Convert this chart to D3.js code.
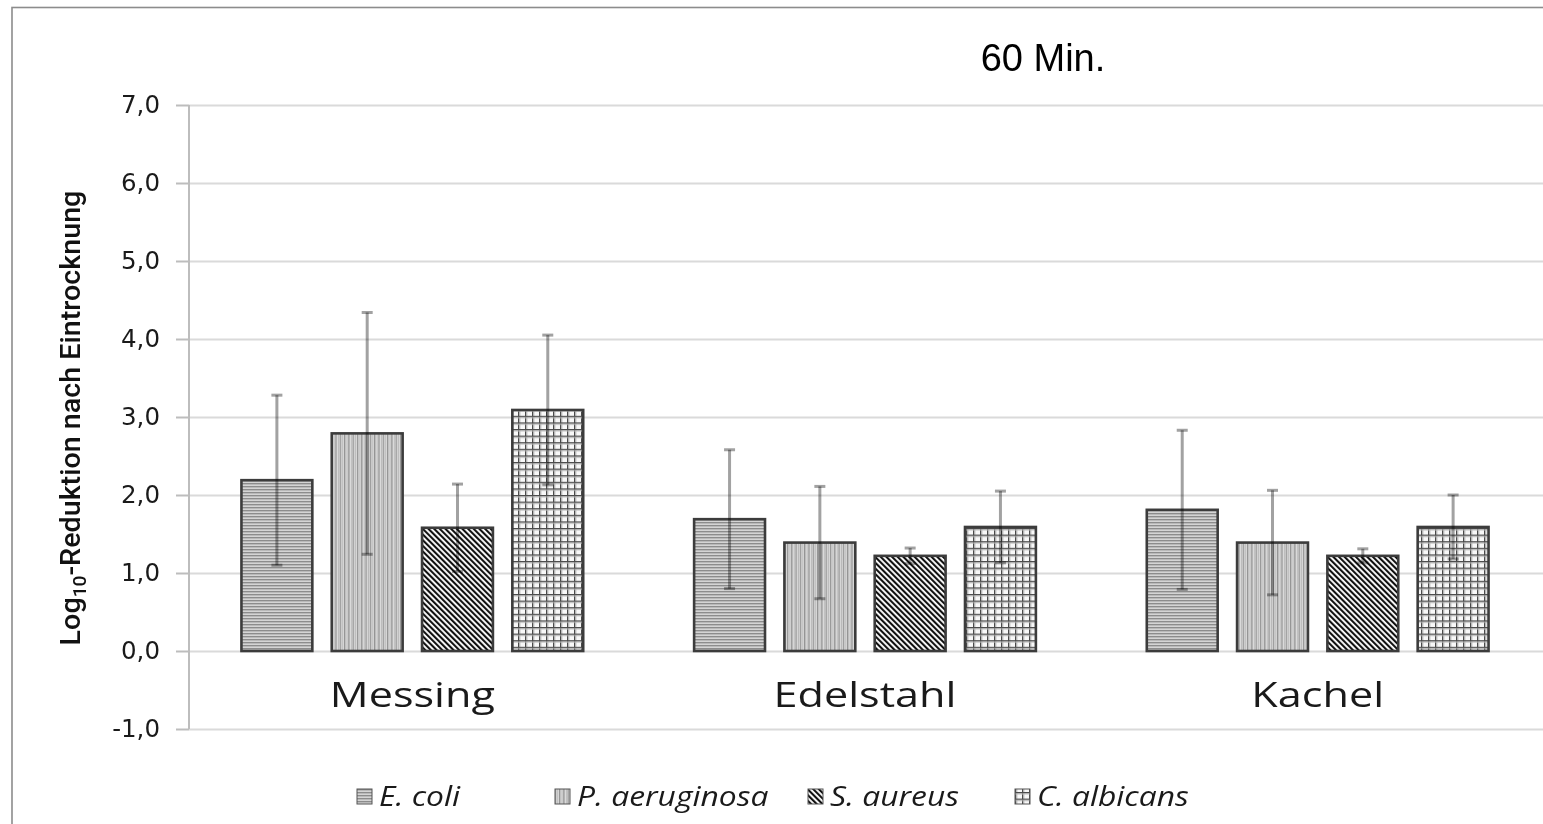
<!DOCTYPE html>
<html>
<head>
<meta charset="utf-8">
<script src="https://cdn.jsdelivr.net/npm/d3@7"></script>
<style>
  html, body { margin: 0; padding: 0; background: #fff; }
  svg { display: block; }
</style>
</head>
<body>
<svg id="chart" width="1543" height="824"></svg>
<script>
// ---- data ----
const categories = ["Messing", "Edelstahl", "Kachel"];
const species = ["E. coli", "P. aeruginosa", "S. aureus", "C. albicans"];
const eColi = [2.19, 1.69, 1.81];
const pAeruginosa = [2.79, 1.39, 1.39];
const sAureus = [1.58, 1.22, 1.22];
const cAlbicans = [3.09, 1.59, 1.59];
const eColiErr = [1.09, 0.89, 1.02];
const pAeruginosaErr = [1.55, 0.72, 0.67];
const sAureusErr = [0.56, 0.10, 0.09];
const cAlbicansErr = [0.96, 0.46, 0.41];
const yTicks = [-1, 0, 1, 2, 3, 4, 5, 6, 7];
const title = "60 Min.";
const legendX = [357, 555, 808, 1015];

const seriesValues = [eColi, pAeruginosa, sAureus, cAlbicans];
const seriesErrors = [eColiErr, pAeruginosaErr, sAureusErr, cAlbicansErr];
const patternIds = ["pH", "pV", "pD", "pG"];

const rows = [];
species.forEach((s, si) => {
  categories.forEach((c, ci) => {
    rows.push({ species: s, cat: c, si, v: seriesValues[si][ci], e: seriesErrors[si][ci] });
  });
});

// ---- layout ----
const W = 1543, H = 824;
const axisX = 189;
const svg = d3.select("#chart");
svg.append("rect").attr("width", W).attr("height", H).attr("fill", "#fff");

const y = d3.scaleLinear().domain([-1, 7]).range([729, 105]);
const x = d3.scaleBand().domain(categories).range([186, 1544]);
const bw = x.bandwidth();
const x1 = d3.scaleBand().domain(species).range([bw * 0.1225, bw * 0.8775]).paddingInner(0.215);

// ---- patterns ----
const defs = svg.append("defs");
// horizontal stripes
{
  const p = defs.append("pattern").attr("id", "pH").attr("patternUnits", "userSpaceOnUse")
    .attr("width", 8).attr("height", 3);
  p.append("rect").attr("width", 8).attr("height", 3).attr("fill", "#b9b9b9");
  p.append("rect").attr("y", 0).attr("width", 8).attr("height", 1).attr("fill", "#8c8c8c");
  p.append("rect").attr("y", 2).attr("width", 8).attr("height", 1).attr("fill", "#d4d4d4");
}
// vertical stripes
{
  const p = defs.append("pattern").attr("id", "pV").attr("patternUnits", "userSpaceOnUse")
    .attr("width", 4.3).attr("height", 8);
  p.append("rect").attr("width", 4.3).attr("height", 8).attr("fill", "#e0e0e0");
  p.append("rect").attr("x", 0).attr("width", 1.3).attr("height", 8).attr("fill", "#939393");
  p.append("rect").attr("x", 2.5).attr("width", 1.1).attr("height", 8).attr("fill", "#bababa");
}
// diagonal stripes (\)
{
  const p = defs.append("pattern").attr("id", "pD").attr("patternUnits", "userSpaceOnUse")
    .attr("width", 4).attr("height", 8).attr("patternTransform", "rotate(-45)");
  p.append("rect").attr("width", 4).attr("height", 8).attr("fill", "#fff");
  p.append("rect").attr("width", 2.1).attr("height", 8).attr("fill", "#111");
}
// grid
{
  const p = defs.append("pattern").attr("id", "pG").attr("patternUnits", "userSpaceOnUse")
    .attr("width", 7).attr("height", 6.6);
  p.append("rect").attr("width", 7).attr("height", 6.6).attr("fill", "#f8f8f8");
  p.append("rect").attr("x", 0).attr("width", 1.4).attr("height", 6.6).attr("fill", "#4a4a4a");
  p.append("rect").attr("x", 1.4).attr("width", 1).attr("height", 6.6).attr("fill", "#bcbcbc");
  p.append("rect").attr("y", 0).attr("width", 7).attr("height", 1.4).attr("fill", "#4a4a4a");
  p.append("rect").attr("y", 1.4).attr("width", 7).attr("height", 1).attr("fill", "#bcbcbc");
}

// ---- outer frame ----
svg.append("rect").attr("x", 12).attr("y", 7.5).attr("width", W + 20).attr("height", H + 20)
  .attr("fill", "none").attr("stroke", "#8c8c8c").attr("stroke-width", 1.6);

// ---- gridlines ----
svg.append("g").attr("transform", `translate(${axisX},0)`)
  .call(d3.axisLeft(y).tickValues(yTicks).tickSize(-(W - axisX)).tickFormat(""))
  .call(g => g.select(".domain").remove())
  .call(g => g.selectAll("line").attr("stroke", "#dadada").attr("stroke-width", 2));

// ---- y axis ----
const fmt = v => d3.format(".1f")(v).replace(".", ",").replace("−", "-");
svg.append("g").attr("transform", `translate(${axisX},0)`)
  .call(d3.axisLeft(y).tickValues(yTicks).tickSize(13).tickPadding(16).tickFormat(fmt))
  .call(g => g.select(".domain").attr("stroke", "#bdbdbd").attr("stroke-width", 2)
    .attr("d", `M0,${y(7)}V${y(-1)}`))
  .call(g => g.selectAll(".tick line").attr("stroke", "#bdbdbd").attr("stroke-width", 2))
  .call(g => g.selectAll(".tick text").attr("font-family", "DejaVu Sans").attr("font-size", 24.5)
    .attr("fill", "#1a1a1a"));

// ---- bars ----
const groups = svg.append("g");
groups.selectAll("rect.bar").data(rows).join("rect").attr("class", "bar")
  .attr("x", d => x(d.cat) + x1(d.species))
  .attr("width", x1.bandwidth())
  .attr("y", d => y(d.v))
  .attr("height", d => y(0) - y(d.v))
  .attr("fill", d => `url(#${patternIds[d.si]})`)
  .attr("stroke", "#3c3c3c").attr("stroke-width", 2.6);

// ---- error bars ----
const eb = svg.append("g");
const cx = d => x(d.cat) + x1(d.species) + x1.bandwidth() / 2;
eb.selectAll("line.v").data(rows).join("line").attr("class", "v")
  .attr("x1", cx).attr("x2", cx)
  .attr("y1", d => y(d.v + d.e)).attr("y2", d => y(d.v - d.e))
  .attr("stroke", "#a2a2a2").attr("stroke-width", 3).style("mix-blend-mode", "multiply");
["top", "bot"].forEach(k => {
  eb.selectAll("line." + k).data(rows).join("line").attr("class", k)
    .attr("x1", d => cx(d) - 5.5).attr("x2", d => cx(d) + 5.5)
    .attr("y1", d => y(k === "top" ? d.v + d.e : d.v - d.e))
    .attr("y2", d => y(k === "top" ? d.v + d.e : d.v - d.e))
    .attr("stroke", "#a2a2a2").attr("stroke-width", 3).style("mix-blend-mode", "multiply");
});

// ---- category labels ----
const catStretch = 1.27;
svg.append("g").attr("transform", `translate(0,${y(0)})`)
  .call(d3.axisBottom(x).tickSize(0).tickPadding(0))
  .call(g => g.select(".domain").remove())
  .call(g => g.selectAll(".tick text")
    .attr("y", 56).attr("dy", 0)
    .attr("font-family", "Open Sans").attr("font-size", 34).attr("fill", "#1a1a1a")
    .attr("transform", `scale(${catStretch},1)`));

// ---- title ----
svg.append("text").attr("x", 1043).attr("y", 71).attr("text-anchor", "middle")
  .attr("font-family", "Liberation Sans, Arial").attr("font-size", 38).attr("fill", "#000")
  .text(title);

// ---- y axis title ----
const yt = svg.append("text").attr("text-anchor", "middle")
  .attr("font-family", "Roboto").attr("font-weight", 500).attr("font-size", 27).attr("fill", "#111");
yt.append("tspan").text("Log");
yt.append("tspan").attr("font-size", 18).attr("dy", 6).text("10");
yt.append("tspan").attr("dy", -6).text("-Reduktion nach Eintrocknung");
const ytLen = yt.node().getComputedTextLength();
yt.attr("transform", `translate(80,418) rotate(-90) scale(${455 / ytLen},1)`);

// ---- legend ----
const legStretch = 1.2;
const leg = svg.append("g");
species.forEach((s, i) => {
  const lx = legendX[i];
  leg.append("rect").attr("x", lx).attr("y", 789).attr("width", 15).attr("height", 15)
    .attr("fill", `url(#${patternIds[i]})`).attr("stroke", "#555").attr("stroke-width", 1);
  leg.append("text").attr("transform", `translate(${lx + 22},806) scale(${legStretch},1)`)
    .attr("font-family", "Open Sans").attr("font-style", "italic").attr("font-size", 26.5)
    .attr("fill", "#1a1a1a").text(s);
});
</script>
</body>
</html>
